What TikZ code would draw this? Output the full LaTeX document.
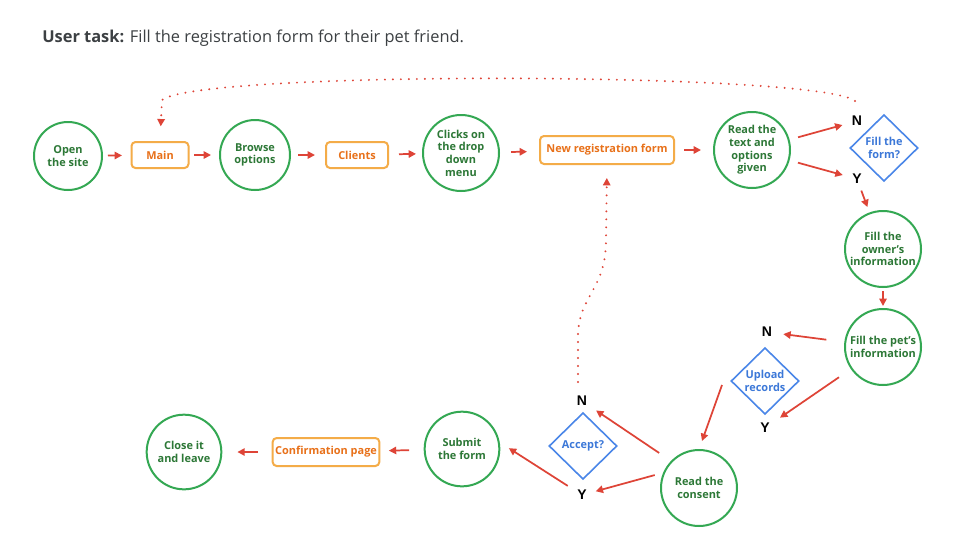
\documentclass[tikz,border=0pt]{standalone}
\usepackage{fontspec}
\setmainfont{Open Sans}
\newfontfamily\labfont{Liberation Sans}
\usetikzlibrary{arrows.meta,shapes.geometric,calc}
\definecolor{gstroke}{RGB}{52,168,83}
\definecolor{gtext}{RGB}{45,120,55}
\definecolor{ostroke}{RGB}{244,172,72}
\definecolor{otext}{RGB}{232,113,26}
\definecolor{bstroke}{RGB}{74,134,232}
\definecolor{btext}{RGB}{60,120,216}
\definecolor{rarrow}{RGB}{222,68,55}
\definecolor{ttext}{RGB}{60,64,67}
\tikzset{
  txt/.style={font=\bfseries\fontsize{8.2}{9.5}\selectfont, align=center},
  stepcircle/.style={txt, shape=circle, draw=gstroke, text=gtext, line width=1.5pt, inner sep=0pt, minimum size=#1},
  pagebox/.style={txt, shape=rectangle, rounded corners=3pt, draw=ostroke, text=otext, line width=1.5pt, inner sep=0pt, minimum height=19.5pt},
  decision/.style={txt, shape=diamond, draw=bstroke, text=btext, line width=1.2pt, inner sep=0pt, minimum width=51pt, minimum height=50pt},
  yn/.style={font=\labfont\bfseries\fontsize{10.5}{12}\selectfont, inner sep=0pt, text=black},
  arr/.style={draw=rarrow, line width=1.3pt, -{Triangle[length=5.5pt,width=5.5pt]}},
  dotarr/.style={draw=rarrow, line width=1.6pt, line cap=round, dash pattern=on 0pt off 6pt, -{Triangle[length=5.5pt,width=5.5pt]}},
}
\begin{document}
\begin{tikzpicture}[x=0.75pt,y=-0.75pt]
\path[use as bounding box, fill=white] (0,0) rectangle (960,540);

\node[anchor=base west, text=ttext, font=\fontsize{12.3}{14}\selectfont, inner sep=0pt] (title) at (42,42) {\textbf{User task:} Fill the registration form for their pet friend.};

% top row
\node[stepcircle=51pt] (open) at (68,156) {Open\\the site};
\node[pagebox, minimum width=42.75pt] (main) at (160,155) {Main};
\node[stepcircle=52.5pt] (browse) at (255,155) {Browse\\options};
\node[pagebox, minimum width=46.5pt] (clients) at (357,155) {Clients};
\node[stepcircle=57pt] (clicks) at (461,153) {Clicks on\\the drop\\down\\menu};
\node[pagebox, minimum width=100.5pt, minimum height=21pt] (newreg) at (607,150) {New registration form};
\node[stepcircle=57pt] (read) at (752,150) {Read the\\text and\\options\\given};
\node[decision] (fillform) at (884,148) {Fill the\\form?};
\node[yn] (n1) at (857,121) {N};
\node[yn] (y1) at (857,179) {Y};

% right column
\node[stepcircle=57pt] (owner) at (883,249) {Fill the\\owner’s\\information};
\node[stepcircle=57pt] (pet) at (883,347) {Fill the pet’s\\information};
\node[decision] (upload) at (765,381) {Upload\\records};
\node[yn] (n2) at (767,332) {N};
\node[yn] (y2) at (765,428) {Y};

% bottom row
\node[stepcircle=57pt] (consent) at (699,488) {Read the\\consent};
\node[decision] (accept) at (583,446) {Accept?};
\node[yn] (n3) at (582,401) {N};
\node[yn] (y3) at (582,495) {Y};
\node[stepcircle=56pt] (submit) at (462,449) {Submit\\the form};
\node[pagebox, minimum width=80pt, minimum height=21pt] (confirm) at (326,452) {Confirmation page};
\node[stepcircle=56pt] (close) at (184,452) {Close it\\and leave};

\coordinate (u1) at (722,385);
\coordinate (u2) at (702,441);
\coordinate (topstart) at (855,101);
\coordinate (midstart) at (578,382);

% arrows
\draw[arr, shorten <=3.75pt, shorten >=6.4pt] (open) -- (main);
\draw[arr, shorten <=3.4pt, shorten >=6pt] (main) -- (browse);
\draw[arr, shorten <=5.3pt, shorten >=7.5pt] (browse) -- (clients);
\draw[arr, shorten <=7.5pt, shorten >=4.5pt] (clients) -- (clicks);
\draw[arr, shorten <=8.3pt, shorten >=9pt] (clicks) -- (newreg);
\draw[arr, shorten <=6.8pt, shorten >=9pt] (newreg) -- (read);
\draw[arr, shorten <=6.6pt, shorten >=7.2pt] (read) -- (n1);
\draw[arr, shorten <=6.5pt, shorten >=7.3pt] (read) -- (y1);
\draw[arr, shorten <=5.2pt, shorten >=4.3pt] (y1) -- (owner);
\draw[arr, shorten <=2.3pt, shorten >=1.5pt] (owner) -- (pet);
\draw[arr, shorten <=13.6pt, shorten >=8.3pt] (pet) -- (n2);
\draw[arr, shorten <=10.8pt, shorten >=9.2pt] (pet) -- (y2);
\draw[arr] (u1) -- (u2);
\draw[arr, shorten <=10.7pt, shorten >=7.9pt] (consent.136) -- (n3);
\draw[arr, shorten <=6.5pt, shorten >=6.8pt] (consent.157) -- (y3);
\draw[arr, shorten <=8.3pt, shorten >=8.1pt] (y3) -- (submit.10);
\draw[arr, shorten <=10.9pt, shorten >=6.4pt] (submit) -- (confirm);
\draw[arr, shorten <=10.1pt, shorten >=11.3pt] (confirm) -- (close);

% dotted loops
\draw[dotarr, shorten >=11pt] (topstart) .. controls (820,72) and (200,70) .. (162,100) -- (main.north);
\draw[dotarr, shorten >=9.75pt] (midstart) -- (578,335) .. controls (579,295) and (606,290) .. (606,240) -- (newreg.south);
\end{tikzpicture}
\end{document}
